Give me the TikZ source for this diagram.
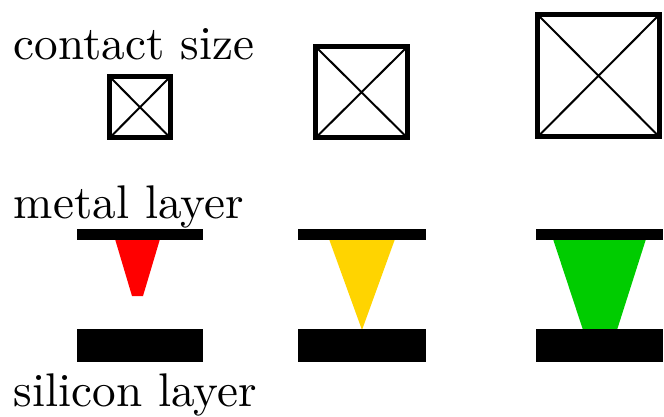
\documentclass[tikz,border=0pt]{standalone}
\tikzset{
  lbl/.style={anchor=base west, inner sep=0pt, font=\normalsize, scale=4.72},
  cbox/.style={draw=black, line width=5pt},
  cdiag/.style={draw=black, line width=2pt},
  bar/.style={fill=black, draw=none},
}
\definecolor{viared}{RGB}{255,0,0}
\definecolor{viayellow}{RGB}{255,212,0}
\definecolor{viagreen}{RGB}{0,204,0}
\begin{document}
\begin{tikzpicture}[x=1pt,y=-1pt]
\useasboundingbox (0,0) rectangle (664,417);
% labels
\node[lbl] (contact) at (13,60) {contact size};
\node[lbl] (metal) at (13,218) {metal layer};
\node[lbl] (silicon) at (13,406) {silicon layer};
% contact boxes
\draw[cdiag] (109.5,76.5) -- (170.5,138) (170.5,76.5) -- (109.5,138);
\draw[cbox] (109.5,76.5) rectangle (170.5,138);
\draw[cdiag] (315.5,46.5) -- (407.5,138) (407.5,46.5) -- (315.5,138);
\draw[cbox] (315.5,46.5) rectangle (407.5,138);
\draw[cdiag] (537.5,14.5) -- (659.5,137) (659.5,14.5) -- (537.5,137);
\draw[cbox] (537.5,14.5) rectangle (659.5,137);
% vias
\fill[viared] (115,239) -- (160,239) -- (143,296) -- (132,296) -- cycle;
\fill[viayellow] (329,239) -- (395,239) -- (362,330) -- cycle;
\fill[viagreen] (553,239) -- (646,239) -- (617,330) -- (583,330) -- cycle;
% metal bars
\fill[bar] (77,229) rectangle (203,240);
\fill[bar] (298,229) rectangle (426,240);
\fill[bar] (536,229) rectangle (663,240);
% silicon bars
\fill[bar] (77,329) rectangle (203,362);
\fill[bar] (298,329) rectangle (426,362);
\fill[bar] (536,329) rectangle (663,362);
\end{tikzpicture}
\end{document}
